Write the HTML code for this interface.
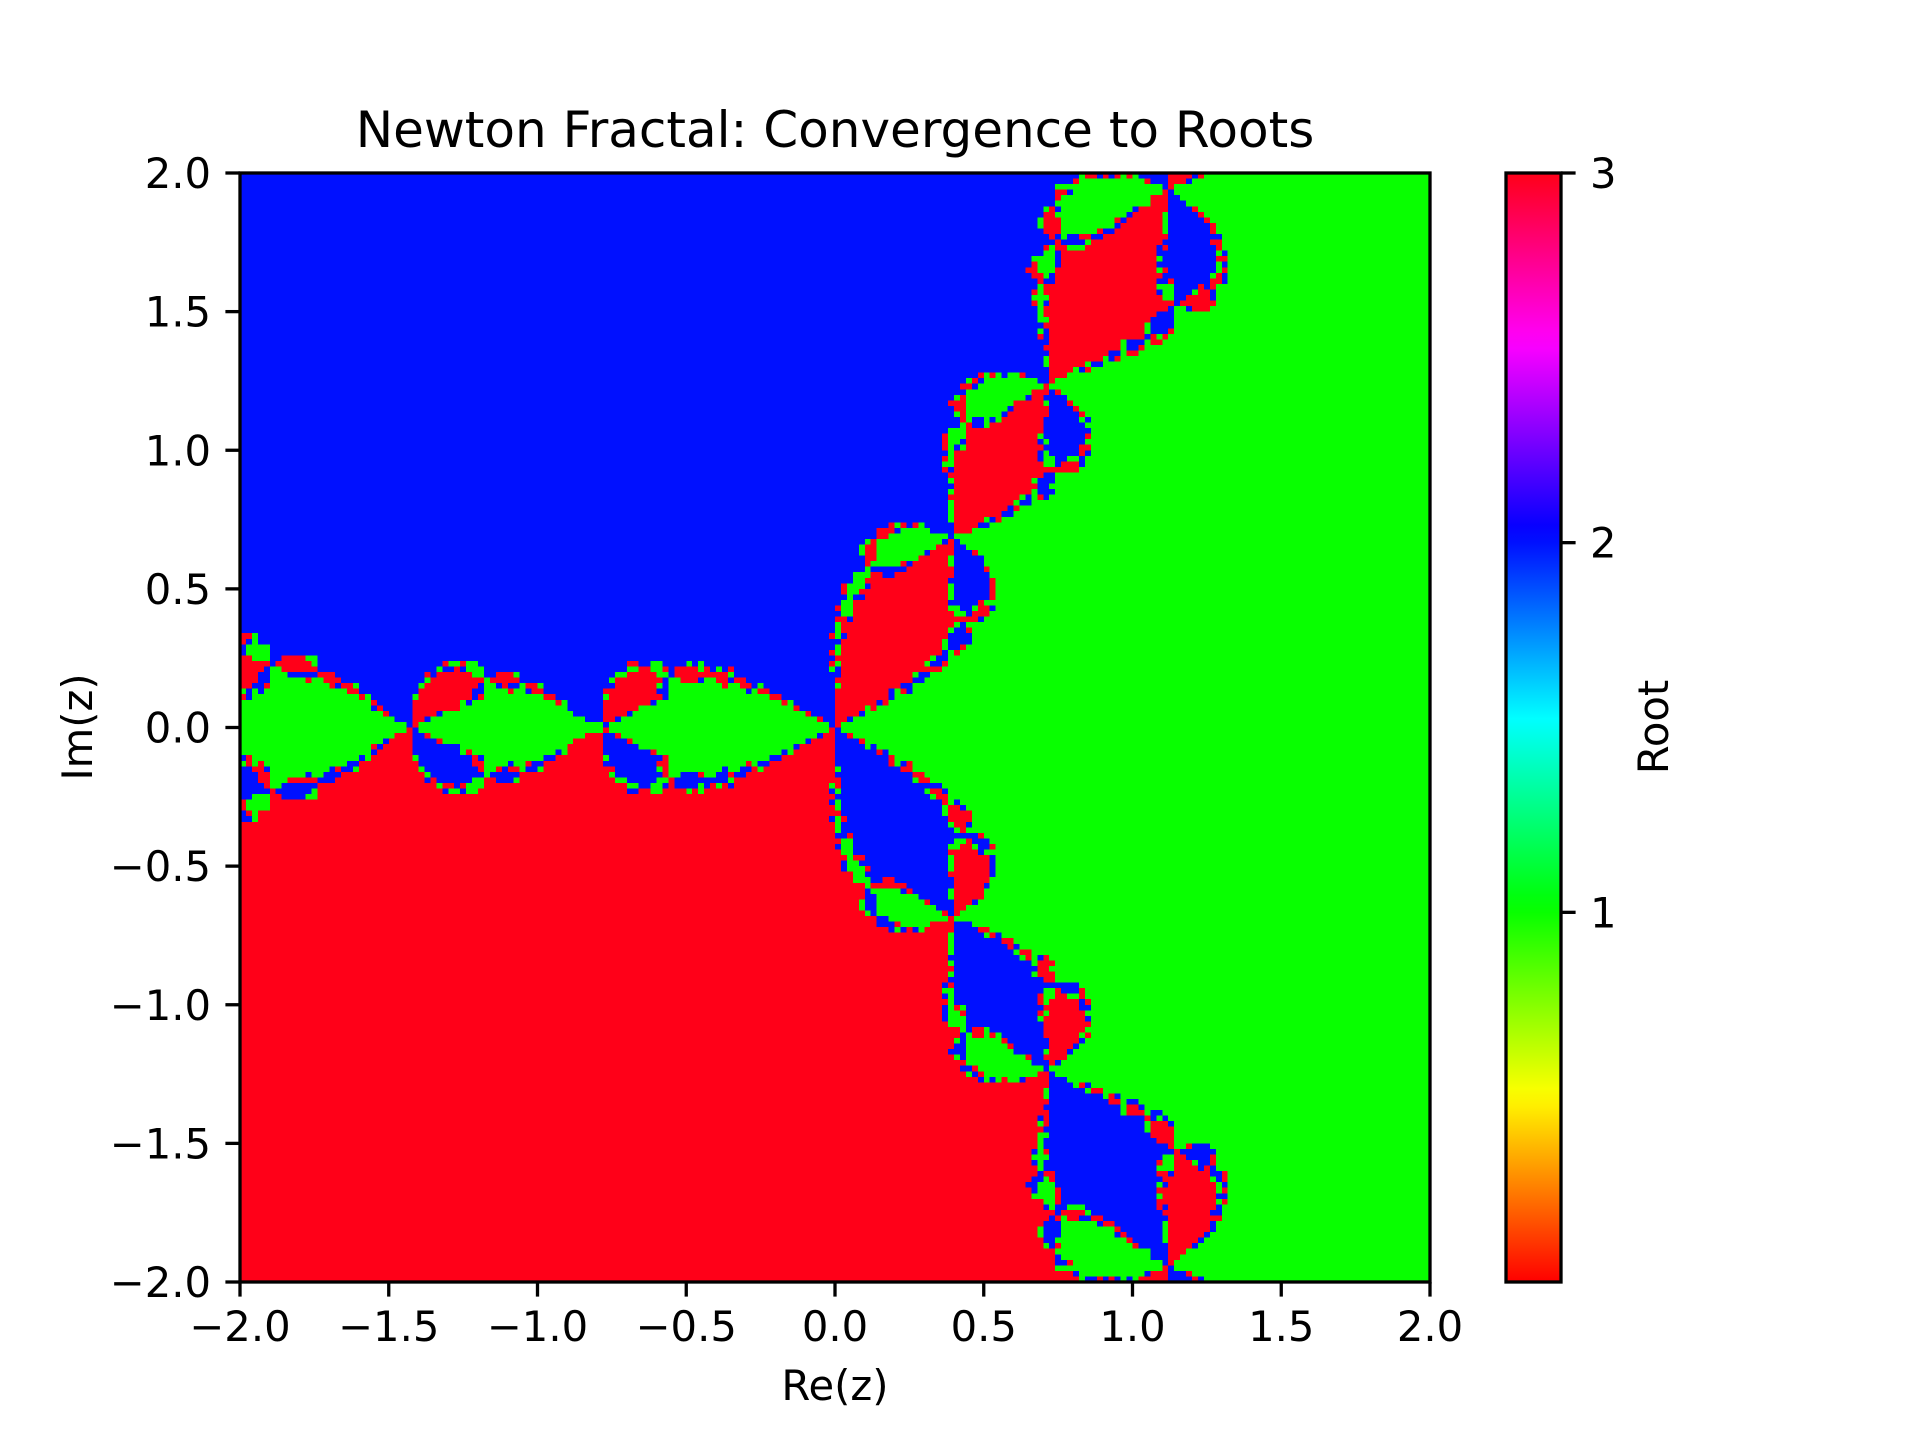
<!DOCTYPE html>
<html><head><meta charset="utf-8"><style>
html,body{margin:0;padding:0;background:#fff;}
#wrap{position:relative;width:1920px;height:1440px;overflow:hidden;font-family:"DejaVu Sans","Liberation Sans",sans-serif;}
#fractal{position:absolute;left:240px;top:173px;width:1190px;height:1109px;image-rendering:pixelated;}
svg{position:absolute;left:0;top:0;}
</style></head><body>
<div id="wrap">
<canvas id="fractal" width="200" height="200"></canvas>
<svg id="svg" width="1920" height="1440">
<defs>
<linearGradient id="hsvgrad" x1="0" y1="1" x2="0" y2="0">
<stop offset="0" stop-color="rgb(255,0,0)"/>
<stop offset="0.15873" stop-color="rgb(255,239,0)"/>
<stop offset="0.174603" stop-color="rgb(247,255,0)"/>
<stop offset="0.333333" stop-color="rgb(8,255,0)"/>
<stop offset="0.349206" stop-color="rgb(0,255,16)"/>
<stop offset="0.507937" stop-color="rgb(0,255,255)"/>
<stop offset="0.666667" stop-color="rgb(0,16,255)"/>
<stop offset="0.68254" stop-color="rgb(8,0,255)"/>
<stop offset="0.84127" stop-color="rgb(247,0,255)"/>
<stop offset="0.857143" stop-color="rgb(255,0,239)"/>
<stop offset="1" stop-color="rgb(255,0,24)"/>
</linearGradient>
</defs>
<text x="835" y="147" font-size="50" text-anchor="middle">Newton Fractal: Convergence to Roots</text>
<rect x="240" y="173" width="1190" height="1109" fill="none" stroke="#000" stroke-width="3.3"/>
<g id="xticks"></g><g id="yticks"></g>
<text x="835" y="1400" font-size="41.7" text-anchor="middle">Re(z)</text>
<text transform="translate(92,727) rotate(-90)" font-size="41.7" text-anchor="middle">Im(z)</text>
<rect x="1506" y="173" width="55" height="1109" fill="url(#hsvgrad)"/>
<rect x="1506" y="173" width="55" height="1109" fill="none" stroke="#000" stroke-width="3.3"/>
<g id="cticks"></g>
<text transform="translate(1668,727) rotate(-90)" font-size="41.7" text-anchor="middle">Root</text>
</svg>
</div>
<script>
// grid definition (data)
const N = 200;
const xRange = [-2, 2];
const yRange = [-2, 2];
const rootsRe = [1, -0.5, -0.5];
const rootsIm = [0, 0.8660254, -0.8660254];
const rootColors = [[8,255,0],[0,16,255],[255,0,24]];
const xTickVals = [-2,-1.5,-1,-0.5,0,0.5,1,1.5,2];
const yTickVals = [-2,-1.5,-1,-0.5,0,0.5,1,1.5,2];
const cTickVals = [1,2,3];
const cRange = [0,3];

const L=240,R=1430,T=173,B=1282;
const xs = v => L + (v - xRange[0])/(xRange[1]-xRange[0])*(R-L);
const ys = v => B - (v - yRange[0])/(yRange[1]-yRange[0])*(B-T);
const cs = v => B - (v - cRange[0])/(cRange[1]-cRange[0])*(B-T);
const fmt = v => (v<0?'\u2212':'') + Math.abs(v).toFixed(1);
const NS='http://www.w3.org/2000/svg';

// fractal: Newton iteration for z^3 - 1
const cv=document.getElementById('fractal'); const ctx=cv.getContext('2d');
const img=ctx.createImageData(N,N);
for(let i=0;i<N;i++){
  const y = yRange[1] - i*(yRange[1]-yRange[0])/(N-1);
  for(let j=0;j<N;j++){
    const x = xRange[0] + j*(xRange[1]-xRange[0])/(N-1);
    let a=x,b=y;
    for(let k=0;k<60;k++){
      const a2=a*a-b*b, b2=2*a*b;
      const a3=a2*a-b2*b, b3=a2*b+b2*a;
      const fr=a3-1, fi=b3;
      const dr=3*a2, di=3*b2;
      const den=dr*dr+di*di;
      if(den<1e-14) break;
      a -= (fr*dr+fi*di)/den;
      b -= (fi*dr-fr*di)/den;
    }
    let best=0,bd=1e9;
    for(let r=0;r<3;r++){const d=(a-rootsRe[r])**2+(b-rootsIm[r])**2; if(d<bd){bd=d;best=r;}}
    const c=rootColors[best]; const p=(i*N+j)*4;
    img.data[p]=c[0];img.data[p+1]=c[1];img.data[p+2]=c[2];img.data[p+3]=255;
  }
}
ctx.putImageData(img,0,0);

const xg=document.getElementById('xticks');
xTickVals.forEach(v=>{
  const l=document.createElementNS(NS,'line');
  l.setAttribute('x1',xs(v));l.setAttribute('x2',xs(v));l.setAttribute('y1',B);l.setAttribute('y2',B+14.6);
  l.setAttribute('stroke','#000');l.setAttribute('stroke-width','3.3');
  
  
  xg.appendChild(l);
  const t=document.createElementNS(NS,'text');
  t.setAttribute('x',xs(v));t.setAttribute('y',B+59);t.setAttribute('font-size','41.7');t.setAttribute('text-anchor','middle');
  t.textContent=fmt(v);
  
  
  xg.appendChild(t);
});
const yg=document.getElementById('yticks');
yTickVals.forEach(v=>{
  const l=document.createElementNS(NS,'line');
  l.setAttribute('x1',L-14.6);l.setAttribute('x2',L);l.setAttribute('y1',ys(v));l.setAttribute('y2',ys(v));
  l.setAttribute('stroke','#000');l.setAttribute('stroke-width','3.3');
  
  
  yg.appendChild(l);
  const t=document.createElementNS(NS,'text');
  t.setAttribute('x',L-29);t.setAttribute('y',ys(v)+15);t.setAttribute('font-size','41.7');t.setAttribute('text-anchor','end');
  t.textContent=fmt(v);
  
  
  yg.appendChild(t);
});
const cg=document.getElementById('cticks');
cTickVals.forEach(v=>{
  const l=document.createElementNS(NS,'line');
  l.setAttribute('x1',1561);l.setAttribute('x2',1575.6);l.setAttribute('y1',cs(v));l.setAttribute('y2',cs(v));
  l.setAttribute('stroke','#000');l.setAttribute('stroke-width','3.3');
  
  
  cg.appendChild(l);
  const t=document.createElementNS(NS,'text');
  t.setAttribute('x',1590);t.setAttribute('y',cs(v)+15);t.setAttribute('font-size','41.7');
  t.textContent=String(v);
  
  
  cg.appendChild(t);
});
</script>
</body></html>
